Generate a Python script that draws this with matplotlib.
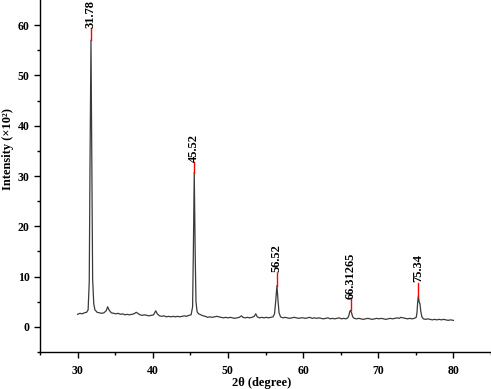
import matplotlib
matplotlib.use("Agg")
import matplotlib.pyplot as plt

plt.rcParams['font.family'] = ['Liberation Serif', 'DejaVu Serif']
plt.rcParams['font.weight'] = 'bold'

two_theta = [30.0, 30.3, 30.6, 30.9, 31.2, 31.4, 31.55, 31.65, 31.78, 31.9, 32.0, 32.15, 32.3, 32.6, 32.9,
             33.2, 33.5, 33.8, 34.0, 34.2, 34.5, 34.8, 35.1, 35.4, 35.7, 36.0, 36.3, 36.6, 36.9, 37.2,
             37.5, 37.8, 38.0, 38.3, 38.6, 38.9, 39.2, 39.5, 39.8, 40.1, 40.4, 40.6, 40.9, 41.2, 41.5,
             41.8, 42.1, 42.4, 42.7, 43.0, 43.3, 43.6, 43.9, 44.2, 44.5, 44.8, 45.1, 45.3, 45.4, 45.52,
             45.65, 45.75, 45.9, 46.1, 46.4, 46.7, 47.0, 47.3, 47.6, 47.9, 48.2, 48.5, 48.8, 49.1, 49.4,
             49.7, 50.0, 50.3, 50.6, 50.9, 51.2, 51.5, 51.8, 52.0, 52.3, 52.6, 52.9, 53.2, 53.5, 53.7,
             53.9, 54.2, 54.5, 54.8, 55.1, 55.4, 55.7, 56.0, 56.2, 56.35, 56.52, 56.65, 56.8, 57.0, 57.3,
             57.6, 57.9, 58.2, 58.5, 58.8, 59.1, 59.4, 59.7, 60.0, 60.3, 60.6, 60.9, 61.2, 61.5, 61.8,
             62.1, 62.4, 62.7, 63.0, 63.3, 63.6, 63.9, 64.2, 64.5, 64.8, 65.1, 65.4, 65.7, 65.95, 66.1,
             66.2, 66.31, 66.45, 66.6, 66.8, 67.1, 67.4, 67.7, 68.0, 68.3, 68.6, 68.9, 69.2, 69.5, 69.8,
             70.1, 70.4, 70.7, 71.0, 71.3, 71.6, 71.9, 72.2, 72.5, 72.8, 73.0, 73.3, 73.6, 73.9, 74.2,
             74.5, 74.8, 75.05, 75.15, 75.25, 75.34, 75.45, 75.55, 75.65, 75.8, 76.0, 76.3, 76.6, 76.9, 77.2,
             77.5, 77.8, 78.1, 78.4, 78.7, 79.0, 79.3, 79.6, 80.0]
intensity = [2.5, 2.7, 2.6, 2.8, 2.9, 3.4, 9.0, 32.0, 57.0, 30.0, 9.5, 4.6, 3.4, 2.9, 2.8,
             2.7, 2.8, 3.2, 4.0, 3.3, 2.8, 2.7, 2.6, 2.7, 2.5, 2.6, 2.4, 2.5, 2.4, 2.5,
             2.6, 2.9, 2.7, 2.4, 2.3, 2.4, 2.3, 2.2, 2.3, 2.4, 3.2, 2.6, 2.2, 2.1, 2.2,
             2.0, 2.1, 2.0, 2.1, 2.0, 2.1, 2.0, 2.1, 2.2, 2.1, 2.3, 2.4, 4.0, 15.0, 30.7,
             14.0, 5.0, 3.0, 2.6, 2.4, 2.2, 2.1, 1.9, 2.0, 1.9, 2.0, 2.1, 2.0, 1.9, 1.8,
             1.9, 1.8, 1.9, 1.8, 1.7, 1.8, 1.9, 2.2, 1.9, 1.8, 1.9, 1.8, 1.9, 2.1, 2.6,
             2.0, 1.8, 1.9, 1.8, 1.9, 1.8, 1.9, 2.0, 2.6, 5.0, 8.2, 5.5, 2.8, 2.0, 1.8,
             1.9, 1.8, 1.7, 1.8, 1.9, 1.8, 1.7, 1.8, 1.8, 1.7, 1.8, 1.9, 1.7, 1.8, 1.7,
             1.8, 1.7, 1.6, 1.7, 1.8, 1.6, 1.7, 1.6, 1.7, 1.8, 1.6, 1.7, 1.6, 1.8, 2.3,
             3.0, 3.3, 2.8, 2.0, 1.7, 1.6, 1.7, 1.6, 1.5, 1.6, 1.7, 1.6, 1.5, 1.6, 1.7,
             1.6, 1.7, 1.6, 1.5, 1.6, 1.7, 1.6, 1.7, 1.8, 1.7, 1.9, 1.8, 1.7, 1.6, 1.7,
             1.6, 1.7, 1.9, 2.8, 5.0, 6.2, 4.9, 4.6, 3.2, 2.0, 1.6, 1.5, 1.6, 1.5, 1.4,
             1.5, 1.4, 1.5, 1.4, 1.5, 1.4, 1.3, 1.4, 1.3]

peak_pos = [31.78, 45.52, 56.52, 66.31265, 75.34]
peak_labels = ["31.78", "45.52", "56.52", "66.31265", "75.34"]
peak_base = [57.0, 30.7, 8.2, 3.3, 6.2]
peak_top = [59.4, 32.7, 10.8, 5.5, 8.8]

fig = plt.figure(figsize=(4.91, 3.89), dpi=100)
ax = fig.add_axes([0.0815, 0.095, 0.9185, 0.905])
ax.plot(two_theta, intensity, color='#3a3a3a', lw=0.9)
for p, b, t, lab in zip(peak_pos, peak_base, peak_top, peak_labels):
    ax.plot([p, p], [b, t], color='red', lw=1.0)
    ax.text(p, t + 0.1, lab, rotation=90, ha='center', va='bottom',
            fontsize=9, fontweight='bold')

ax.set_xlim(25, 85)
ax.set_ylim(-5, 65)
ax.set_xticks([30, 40, 50, 60, 70, 80])
ax.set_xticks([25, 35, 45, 55, 65, 75, 85], minor=True)
ax.set_yticks([0, 10, 20, 30, 40, 50, 60])
ax.set_yticks([-5, 5, 15, 25, 35, 45, 55], minor=True)
ax.tick_params(which='major', direction='out', length=4.5, width=1, labelsize=8.5)
ax.tick_params(which='minor', direction='out', length=2.5, width=1)
ax.tick_params(axis='x', which='major', pad=5)
ax.tick_params(axis='y', which='major', pad=3)
for lbl in ax.get_xticklabels() + ax.get_yticklabels():
    lbl.set_fontweight('bold')
ax.spines['top'].set_visible(False)
ax.spines['right'].set_visible(False)
ax.spines['left'].set_linewidth(1.0)
ax.spines['bottom'].set_linewidth(1.0)
ax.set_xlabel('2θ (degree)', fontsize=9, fontweight='bold')
ax.set_ylabel('Intensity (×10²)', fontsize=9, fontweight='bold')
ax.xaxis.set_label_coords(0.492, -0.088)
ax.xaxis.label.set_va('center')
ax.yaxis.set_label_coords(-0.071, 0.578)
ax.yaxis.label.set_va('center')

fig.savefig('out.png', dpi=100)
